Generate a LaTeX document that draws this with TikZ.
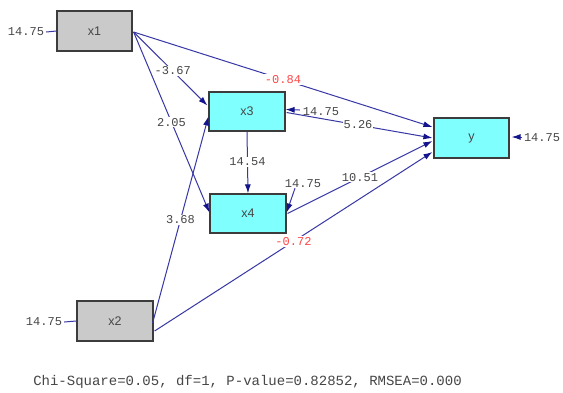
\documentclass[tikz,border=0pt]{standalone}
\usepackage{fontspec}
\setmainfont{Liberation Sans}
\setmonofont{Liberation Mono}
\usetikzlibrary{arrows.meta,calc}
\definecolor{lc}{RGB}{55,55,165}
\definecolor{ahc}{RGB}{20,20,140}
\definecolor{boxgray}{RGB}{202,202,202}
\definecolor{boxcyan}{RGB}{128,255,255}
\definecolor{bord}{RGB}{60,60,60}
\definecolor{lbl}{RGB}{70,70,70}
\definecolor{redl}{RGB}{255,70,70}
\tikzset{
  obsx/.style={draw=bord,line width=1.2pt,fill=boxgray,minimum width=75pt,minimum height=40pt,inner sep=0pt,font=\fontsize{12.5}{13}\selectfont,text=lbl},
  obsy/.style={draw=bord,line width=1.2pt,fill=boxcyan,minimum width=76pt,minimum height=39pt,inner sep=0pt,font=\fontsize{12.5}{13}\selectfont,text=lbl},
  path/.style={draw=lc,line width=1pt,-{Latex[length=9pt,width=6pt,color=ahc]}},
  plain/.style={draw=lc,line width=1pt},
  val/.style={fill=white,inner sep=1pt,font=\ttfamily\fontsize{12}{12}\selectfont,text=lbl},
  redval/.style={val,text=redl},
}
\begin{document}
\begin{tikzpicture}[x=1pt,y=-1pt]
\useasboundingbox[fill=white] (0,0) rectangle (563,392);
% boxes
\node[obsx] (x1) at (94.5,31) {x1};
\node[obsx,minimum width=76pt] (x2) at (115,321) {x2};
\node[obsy] (x3) at (247,111.5) {x3};
\node[obsy] (x4) at (248,213.5) {x4};
\node[obsy,minimum width=75pt,minimum height=40pt] (y) at (471.5,138) {y};
% error variances
\node[val] (e1) at (26,32) {14.75};
\node[val] (e2) at (44,322) {14.75};
\node[val] (e3) at (321,112) {14.75};
\node[val] (e4) at (303,184) {14.75};
\node[val] (ey) at (542,138) {14.75};
\draw[plain] ([xshift=1pt]e1.east) -- (x1.west);
\draw[plain] ([xshift=1pt]e2.east) -- (x2.west);
\draw[path] ([xshift=-2pt,yshift=2pt]e3.west) -- ([yshift=2pt]x3.east);
\draw[path] ([xshift=-8pt,yshift=1pt]e4.south) -- ([yshift=1pt]x4.east);
\draw[path] ([xshift=-1pt,yshift=1pt]ey.west) -- ([xshift=2pt,yshift=1pt]y.east);
% paths
\draw[path] ([xshift=1pt,yshift=-1pt]x1.east) -- node[val,pos=0.53] {-3.67} ([xshift=-1pt,yshift=6pt]x3.west);
\draw[path] ([xshift=1pt,yshift=-1pt]x1.east) -- node[val,pos=0.5] {2.05} ([yshift=1pt]x4.west);
\draw[path] ([xshift=1pt,yshift=-1pt]x1.east) -- node[redval,pos=0.5] {-0.84} ([xshift=-1pt,yshift=11pt]y.west);
\draw[path] ([xshift=-1pt,yshift=-2pt]x2.east) -- node[val,pos=0.5] {3.68} ([yshift=-5pt]x3.west);
\draw[path] ([xshift=1pt,yshift=-10pt]x2.east) -- node[redval,pos=0.5] {-0.72} ([xshift=-1pt,yshift=-14pt]y.west);
\draw[path] (x3.south) -- node[val,pos=0.49] {14.54} (x4.north);
\draw[path] ([xshift=1pt,yshift=-1pt]x3.east) -- node[val,pos=0.49] {5.26} ([xshift=-1pt]y.west);
\draw[path] ([xshift=1pt]x4.east) -- node[val,pos=0.5] {10.51} ([xshift=-1pt,yshift=-3pt]y.west);
% fit statistics
\node[font=\ttfamily\fontsize{14}{14}\selectfont,text=lbl] (fit) at (247.5,382) {Chi-Square=0.05, df=1, P-value=0.82852, RMSEA=0.000};
\end{tikzpicture}
\end{document}
